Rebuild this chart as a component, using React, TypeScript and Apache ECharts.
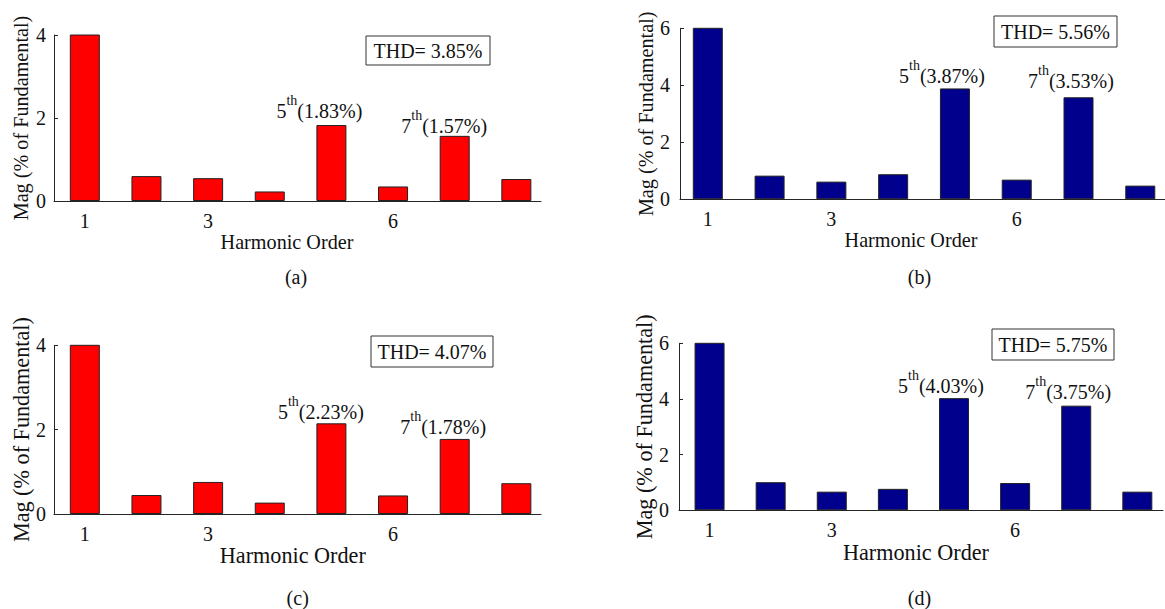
import React, { useEffect, useRef } from 'react';
import * as echarts from 'echarts';

// ---------- data ----------
const harmonicOrders = [1, 2, 3, 4, 5, 6, 7, 8];
const xTickValues = [1, 3, 6];
// order 1 is the fundamental (100 % of fundamental); it is cut off by the axis limit
const magA = [100, 0.6, 0.55, 0.23, 1.83, 0.35, 1.57, 0.53];
const magB = [100, 0.83, 0.62, 0.88, 3.89, 0.69, 3.58, 0.48];
const magC = [100, 0.45, 0.76, 0.27, 2.15, 0.44, 1.78, 0.73];
const magD = [100, 1.01, 0.67, 0.77, 4.03, 0.98, 3.76, 0.67];
const yMaxes = [4, 6, 4, 6];
const yInterval = 2;
const annotatedOrders = [5, 7];
const annotatedSuffix = 'th';
const annotA = ['(1.83%)', '(1.57%)'];
const annotB = ['(3.87%)', '(3.53%)'];
const annotC = ['(2.23%)', '(1.78%)'];
const annotD = ['(4.03%)', '(3.75%)'];
const thdTexts = ['THD= 3.85%', 'THD= 5.56%', 'THD= 4.07%', 'THD= 5.75%'];
const captions = ['(a)', '(b)', '(c)', '(d)'];
const xAxisTitle = 'Harmonic Order';
const yAxisTitle = 'Mag (% of Fundamental)';

// ---------- styles / layout ----------
const FONT = 'Liberation Serif';
const AXIS = '#262626';
const TEXT = '#111111';
const RED = '#ff0000';
const BLUE = '#00008c';

const panels = [
  {
    values: magA, annot: annotA, color: RED, yMax: yMaxes[0],
    grid: { left: 54, top: 35, width: 487, height: 166 },
    xMin: 0.5, xMax: 8.4, nameFs: 20.2, yNameGap: 23, xNameGap: 21, xNamePad: 21, yLabelMargin: 8,
    annOffsets: [[-12, -4], [-10.5, 0]],
    box: { x: 366, y: 36, w: 124, h: 29 }, cap: { x: 296, y: 277 },
  },
  {
    values: magB, annot: annotB, color: BLUE, yMax: yMaxes[1],
    grid: { left: 680, top: 28.3, width: 485, height: 171 },
    xMin: 0.55, xMax: 8.4, nameFs: 20.2, yNameGap: 24, xNameGap: 25, xNamePad: 23, yLabelMargin: 10,
    annOffsets: [[-13, -2], [-7.5, -6]],
    box: { x: 994, y: 16, w: 123, h: 31 }, cap: { x: 919.5, y: 277 },
  },
  {
    values: magC, annot: annotC, color: RED, yMax: yMaxes[2],
    grid: { left: 54, top: 345.3, width: 487, height: 168.7 },
    xMin: 0.5, xMax: 8.4, nameFs: 22.2, yNameGap: 20, xNameGap: 24.5, xNamePad: 9.4, yLabelMargin: 8,
    annOffsets: [[-10.5, -1.6], [-11.5, -1.7]],
    box: { x: 371, y: 336, w: 122, h: 31 }, cap: { x: 297.7, y: 598.3 },
  },
  {
    values: magD, annot: annotD, color: BLUE, yMax: yMaxes[3],
    grid: { left: 679, top: 343.3, width: 484, height: 167 },
    xMin: 0.5, xMax: 8.42, nameFs: 22.2, yNameGap: 21, xNameGap: 24, xNamePad: 10, yLabelMargin: 10,
    annOffsets: [[-13, -1.7], [-8, -4]],
    box: { x: 992, y: 329, w: 122, h: 31 }, cap: { x: 919.5, y: 597.7 },
  },
];

const rich = {
  n: { fontSize: 20, fontFamily: FONT, color: TEXT, lineHeight: 20, verticalAlign: 'middle' },
  s: { fontSize: 14, fontFamily: FONT, color: TEXT, lineHeight: 14, padding: [0, 0, 21, 0], verticalAlign: 'middle' },
};

function buildOption() {
  const grid: any[] = [];
  const xAxis: any[] = [];
  const yAxis: any[] = [];
  const series: any[] = [];
  const graphic: any[] = [];

  panels.forEach((p, i) => {
    grid.push({ ...p.grid, containLabel: false, outerBoundsMode: 'none' });
    xAxis.push({
      type: 'value', gridIndex: i, min: p.xMin, max: p.xMax,
      name: xAxisTitle, nameLocation: 'middle', nameGap: p.xNameGap,
      nameTextStyle: { fontFamily: FONT, fontSize: p.nameFs, color: TEXT, padding: [0, p.xNamePad, 0, 0] },
      axisLine: { show: true, lineStyle: { color: AXIS, width: 1 } },
      axisTick: { show: false },
      splitLine: { show: false },
      axisLabel: { show: true, customValues: xTickValues, margin: 10, fontFamily: FONT, fontSize: 20, color: TEXT },
    });
    yAxis.push({
      type: 'value', gridIndex: i, min: 0, max: p.yMax, interval: yInterval,
      name: yAxisTitle, nameLocation: 'middle', nameGap: p.yNameGap,
      nameTextStyle: { fontFamily: FONT, fontSize: p.nameFs, color: TEXT },
      axisLine: { show: true, lineStyle: { color: AXIS, width: 1 } },
      axisTick: { show: true, inside: true, length: 4, lineStyle: { color: AXIS } },
      splitLine: { show: false },
      axisLabel: { margin: p.yLabelMargin, fontFamily: FONT, fontSize: 20, color: TEXT },
    });
    series.push({
      type: 'bar', xAxisIndex: i, yAxisIndex: i, barWidth: 30, clip: true,
      itemStyle: { color: p.color, borderColor: '#222', borderWidth: 1 },
      data: harmonicOrders.map((h, k) => {
        const a = annotatedOrders.indexOf(h);
        if (a < 0) return { value: [h, p.values[k]] };
        return {
          value: [h, p.values[k]],
          label: {
            show: true, position: 'top', distance: 0, offset: p.annOffsets[a],
            color: TEXT, fontFamily: FONT, fontSize: 20,
            formatter: `{n|${h}}{s|${annotatedSuffix}}{n|${p.annot[a]}}`,
            rich,
          },
        };
      }),
    });
    graphic.push({
      type: 'group', x: p.box.x, y: p.box.y,
      children: [
        { type: 'rect', shape: { x: 0, y: 0, width: p.box.w, height: p.box.h }, style: { fill: '#fff', stroke: '#333', lineWidth: 1 } },
        {
          type: 'text', x: p.box.w / 2, y: p.box.h / 2,
          style: { text: thdTexts[i], fontFamily: FONT, fontSize: 20, fill: TEXT, align: 'center', verticalAlign: 'middle', textAlign: 'center', textVerticalAlign: 'middle' },
        },
      ],
    });
    graphic.push({
      type: 'text', x: p.cap.x, y: p.cap.y,
      style: { text: captions[i], fontFamily: FONT, fontSize: 20, fill: TEXT, align: 'center', verticalAlign: 'middle', textAlign: 'center', textVerticalAlign: 'middle' },
    });
  });

  return {
    animation: false,
    backgroundColor: '#ffffff',
    textStyle: { fontFamily: FONT },
    grid, xAxis, yAxis, series, graphic,
  };
}

export default function App() {
  const ref = useRef<HTMLDivElement>(null);
  useEffect(() => {
    if (!ref.current) return;
    const chart = echarts.init(ref.current, null, { renderer: 'svg' });
    chart.setOption(buildOption() as any);
    return () => chart.dispose();
  }, []);
  return <div ref={ref} style={{ position: 'fixed', left: 0, top: 0, width: 1165, height: 609, background: '#fff' }} />;
}
